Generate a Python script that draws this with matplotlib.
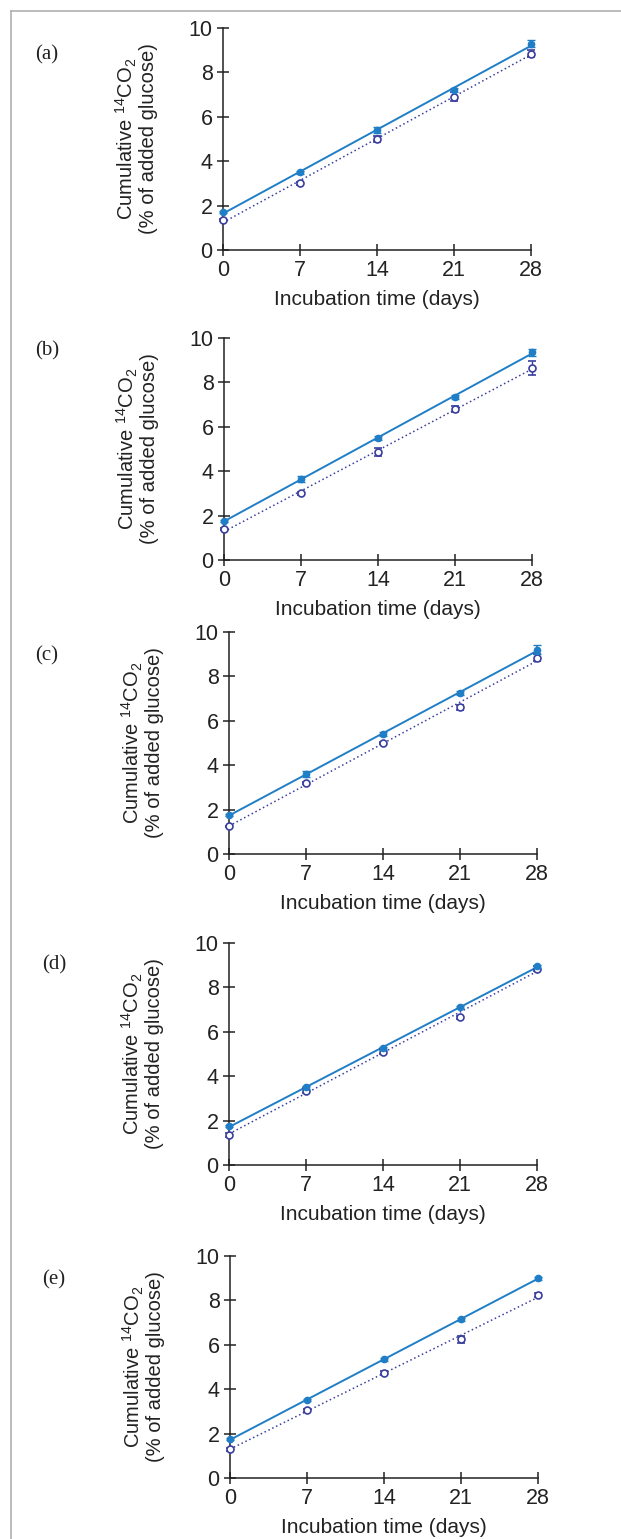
import numpy as np
import matplotlib
matplotlib.use("Agg")
import matplotlib.pyplot as plt
from matplotlib.lines import Line2D

plt.rcParams['font.family'] = ['Liberation Sans', 'DejaVu Sans']
plt.rcParams['mathtext.fontset'] = 'custom'
plt.rcParams['mathtext.rm'] = 'Liberation Sans'
plt.rcParams['mathtext.it'] = 'Liberation Sans'

# Incubation days
days = [0, 7, 14, 21, 28]

# Filled symbols (solid line) and open symbols (dotted line), per panel
filled_a = [1.70, 3.50, 5.40, 7.20, 9.30]
filled_a_err = [0.05, 0.08, 0.12, 0.08, 0.15]
open_a = [1.35, 3.00, 5.00, 6.90, 8.85]
open_a_err = [0.05, 0.05, 0.15, 0.20, 0.15]

filled_b = [1.75, 3.65, 5.50, 7.35, 9.35]
filled_b_err = [0.05, 0.12, 0.10, 0.10, 0.15]
open_b = [1.40, 3.00, 4.85, 6.80, 8.65]
open_b_err = [0.05, 0.08, 0.18, 0.12, 0.30]

filled_c = [1.75, 3.60, 5.40, 7.25, 9.20]
filled_c_err = [0.05, 0.15, 0.10, 0.10, 0.20]
open_c = [1.25, 3.20, 5.00, 6.60, 8.85]
open_c_err = [0.03, 0.05, 0.05, 0.12, 0.15]

filled_d = [1.75, 3.50, 5.25, 7.10, 8.95]
filled_d_err = [0.05, 0.08, 0.05, 0.05, 0.08]
open_d = [1.35, 3.35, 5.10, 6.65, 8.85]
open_d_err = [0.08, 0.12, 0.12, 0.08, 0.12]

filled_e = [1.75, 3.50, 5.35, 7.15, 9.00]
filled_e_err = [0.05, 0.05, 0.07, 0.07, 0.07]
open_e = [1.30, 3.05, 4.75, 6.25, 8.25]
open_e_err = [0.07, 0.07, 0.08, 0.15, 0.08]

panel_labels = ['(a)', '(b)', '(c)', '(d)', '(e)']
yticks = [0, 2, 4, 6, 8, 10]

panels = [
    (filled_a, filled_a_err, open_a, open_a_err),
    (filled_b, filled_b_err, open_b, open_b_err),
    (filled_c, filled_c_err, open_c, open_c_err),
    (filled_d, filled_d_err, open_d, open_d_err),
    (filled_e, filled_e_err, open_e, open_e_err),
]

W, H = 621, 1539
# axes boxes in pixels: left, y of zero line
boxes = [(223, 250), (224, 560), (229, 854), (229, 1165), (230, 1478)]
label_pos = [(35, 55), (35, 351), (35, 656), (42, 965), (42, 1280)]
ax_w, ax_h = 308, 222

c_filled = '#1f7ec6'
c_open = '#3a3f9e'

fig = plt.figure(figsize=(W / 100, H / 100), dpi=100)

# thin grey frame on top and left
fig.add_artist(Line2D([11 / W, 1], [1 - 11 / H, 1 - 11 / H], color='#b0b0b0', lw=1.2))
fig.add_artist(Line2D([11 / W, 11 / W], [0, 1 - 11 / H], color='#b0b0b0', lw=1.2))

x = np.array(days)
for i, (f, fe, o, oe) in enumerate(panels):
    left, y0 = boxes[i]
    ax = fig.add_axes([left / W, 1 - y0 / H, ax_w / W, ax_h / H])

    # linear regression lines
    pf = np.polyfit(x, f, 1)
    po = np.polyfit(x, o, 1)
    ax.plot(x, np.polyval(pf, x), color=c_filled, lw=1.4, ls='-')
    ax.plot(x, np.polyval(po, x), color=c_open, lw=1.1, ls=(0, (1, 1.8)))

    ax.errorbar(x, o, yerr=oe, fmt='o', ms=5, mfc='white', mec=c_open, mew=1.2,
                ecolor=c_open, elinewidth=1, capsize=3, clip_on=False, zorder=3)
    ax.errorbar(x, f, yerr=fe, fmt='o', ms=4.5, mfc=c_filled, mec=c_filled,
                ecolor=c_filled, elinewidth=1.2, capsize=3, clip_on=False, zorder=4)

    ax.set_xlim(0, 28)
    ax.set_ylim(0, 10)
    ax.set_xticks(days)
    ax.set_yticks(yticks)
    for s in ['top', 'right']:
        ax.spines[s].set_visible(False)
    for s in ['left', 'bottom']:
        ax.spines[s].set_linewidth(1.1)
        ax.spines[s].set_color('#222222')
    ax.tick_params(direction='inout', length=9, width=1.1, labelsize=15.5,
                   colors='#222222', pad=3)
    ax.set_xlabel('Incubation time (days)', fontsize=15, color='#222222', labelpad=6)
    ax.set_ylabel('Cumulative $^{14}$CO$_2$\n(% of added glucose)', fontsize=14.5,
                  color='#222222', labelpad=22, linespacing=1.0)

    lx, ly = label_pos[i]
    fig.text(lx / W, 1 - ly / H, panel_labels[i], family=['Liberation Serif', 'DejaVu Serif'],
             fontsize=15, color='#222222', va='center', ha='left')

fig.savefig('out.png', dpi=100)
